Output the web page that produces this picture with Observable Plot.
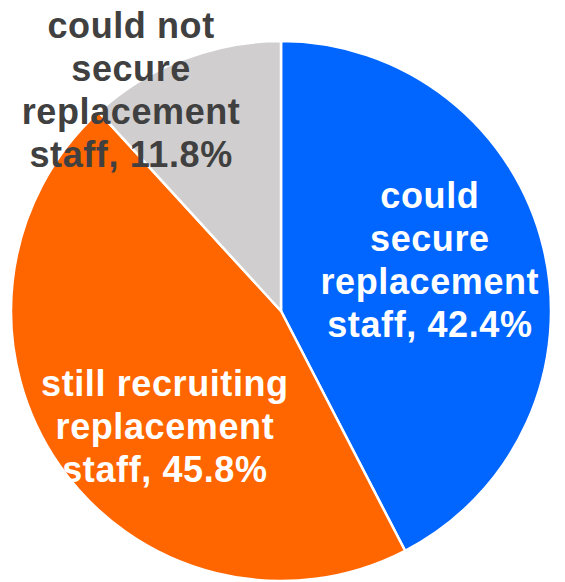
<!DOCTYPE html>
<html>
<head>
<meta charset="utf-8">
<script src="https://cdn.jsdelivr.net/npm/d3@7"></script>
<script src="https://cdn.jsdelivr.net/npm/@observablehq/plot@0.6"></script>
<style>
  html, body { margin: 0; padding: 0; background: #fff; }
  #chart svg text { letter-spacing: 0.6px; }
</style>
</head>
<body>
<div id="chart"></div>
<script>
// Data
const categories = ["could secure replacement staff", "still recruiting replacement staff", "could not secure replacement staff"];
const values = [42.4, 45.8, 11.8];
const labelLines = [
  ["could", "secure", "replacement", "staff, 42.4%"],
  ["still recruiting", "replacement", "staff, 45.8%"],
  ["could not", "secure", "replacement", "staff, 11.8%"]
];

// Layout / style
const W = 565, H = 582;
const cx = 281, cy = 311, R = 270;
const colors = ["#0066FF", "#FF6600", "#D0CECE"];
const textColors = ["#FFFFFF", "#FFFFFF", "#404040"];
const labelPlacement = [ // [angle nudge (deg), radius fraction]
  [-5, 0.58],
  [-10, 0.61],
  [-13, 0.99]
];
const fontSize = 36, lineH = 43;

const table = categories.map((c, i) => ({category: c, value: values[i], i}));
const arcs = d3.pie().sort(null).value(d => d.value)(table);

// label anchor points in data (pixel-offset) coordinates relative to pie centre
const labelRows = [];
arcs.forEach((a, k) => {
  const mid = (a.startAngle + a.endAngle) / 2 + labelPlacement[k][0] * Math.PI / 180;
  const r = labelPlacement[k][1] * R;
  const lx = r * Math.sin(mid), ly = -r * Math.cos(mid);
  const lines = labelLines[k];
  lines.forEach((t, j) => {
    labelRows.push({x: lx, y: ly + (j - (lines.length - 1) / 2) * lineH, text: t, k});
  });
});

const xDomain = [-cx, W - cx], yDomain = [-cy, H - cy];

const pieMark = (index, scales) => {
  const sx = scales && scales.x ? scales.x : d3.scaleLinear(xDomain, [0, W]);
  const sy = scales && scales.y ? scales.y : d3.scaleLinear(yDomain, [0, H]);
  const px = sx(0), py = sy(0), pr = sx(R) - sx(0);
  const arcGen = d3.arc().innerRadius(0).outerRadius(pr);
  const g = d3.create("svg:g").attr("transform", `translate(${px},${py})`);
  g.selectAll("path").data(arcs).join("path")
    .attr("d", arcGen)
    .attr("fill", d => colors[d.data.i])
    .attr("stroke", "#fff")
    .attr("stroke-width", 2.5)
    .attr("stroke-linejoin", "round");
  return g.node();
};

const chart = Plot.plot({
  width: W,
  height: H,
  margin: 0,
  x: {domain: xDomain, range: [0, W], axis: null},
  y: {domain: yDomain, range: [0, H], axis: null},
  style: {background: "#fff", overflow: "visible"},
  marks: [
    pieMark,
    Plot.text(labelRows, {
      x: "x", y: "y", text: "text",
      fill: d => textColors[d.k],
      fontSize: fontSize,
      fontWeight: "bold",
      fontFamily: "'Liberation Sans', Arial, sans-serif",
      textAnchor: "middle",
      lineAnchor: "middle"
    })
  ]
});
document.getElementById("chart").appendChild(chart);
</script>
</body>
</html>
